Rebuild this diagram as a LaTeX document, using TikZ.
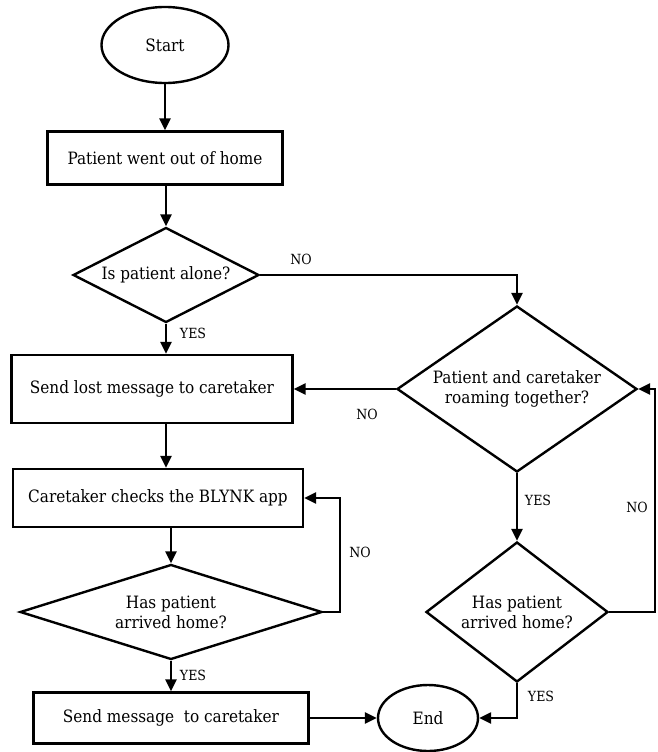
\documentclass[tikz,border=0pt]{standalone}
\usepackage{fontspec}
\setmainfont{DejaVu Serif Condensed}
\usepackage{tikz}
\usetikzlibrary{shapes,arrows.meta,positioning,calc}

\begin{document}
\begin{tikzpicture}[
    x=1pt, y=-1pt,
    every node/.style={font=\fontsize{17}{20}\selectfont},
    term/.style={draw, ellipse, line width=2.4pt, inner sep=0pt},
    procbox/.style={draw, rectangle, line width=2.4pt, inner sep=0pt},
    decision/.style={draw, diamond, line width=2.4pt, inner sep=0pt, align=center},
    flow/.style={line width=2.4pt, -{Triangle[length=12pt,width=11pt]}},
    lbl/.style={font=\fontsize{14}{16}\selectfont, inner sep=0pt}
]
\useasboundingbox (0,0) rectangle (657,752);

% nodes
\node[term, minimum width=127pt, minimum height=76pt] (start) at (165,45) {Start};
\node[procbox, minimum width=235pt, minimum height=53pt] (outhome) at (165,158) {Patient went out of home};
\node[decision, minimum width=186pt, minimum height=95pt, aspect=1.96] (alone) at (166,275) {Is patient alone?};
\node[procbox, minimum width=281pt, minimum height=68pt] (lostmsg) at (152,389) {Send lost message to caretaker};
\node[decision, minimum width=240pt, minimum height=166pt, aspect=1.45] (together) at (517,389) {Patient and caretaker\\roaming together?};
\node[procbox, minimum width=290pt, minimum height=58pt] (checkapp) at (158,498) {Caretaker checks the BLYNK app};
\node[decision, minimum width=302pt, minimum height=95pt, aspect=3.18] (homeA) at (171,612) {Has patient\\arrived home?};
\node[decision, minimum width=182pt, minimum height=140pt, aspect=1.3] (homeB) at (517,612) {Has patient\\arrived home?};
\node[procbox, minimum width=275pt, minimum height=51pt] (sendmsg) at (171,718) {Send message\ \ to caretaker};
\node[term, minimum width=100pt, minimum height=66pt] (finish) at (428,718) {End};

\coordinate (loopA) at (340,0);
\coordinate (loopB) at (655,0);

% connectors
\draw[flow] (start) -- (outhome);
\draw[flow] (outhome.south -| alone.north) -- (alone.north);
\draw[flow] (alone.south) -- (alone.south |- lostmsg.north);
\draw[flow] (alone.east) -| (together.north);
\draw[flow] (together.west) -- (together.west -| lostmsg.east);
\draw[flow] (lostmsg.south -| alone.south) -- (checkapp.north -| alone.south);
\draw[flow] (homeA.north |- checkapp.south) -- (homeA.north);
\draw[flow] (homeA.east) -- (homeA.east -| loopA) |- (checkapp.east);
\draw[flow] (homeA.south) -- (homeA.south |- sendmsg.north);
\draw[flow] (together.south) -- (homeB.north);
\draw[flow] (homeB.east) -- (homeB.east -| loopB) |- (together.east);
\draw[flow] (homeB.south) |- (finish.east);
\draw[flow] (sendmsg.east) -- (finish.west);

% labels
\node[lbl] (noA) at (301,259) {NO};
\node[lbl] (yesA) at (193,333) {YES};
\node[lbl] (noB) at (367,414) {NO};
\node[lbl] (yesB) at (538,500) {YES};
\node[lbl] (noC) at (637,507) {NO};
\node[lbl] (noD) at (360,552) {NO};
\node[lbl] (yesC) at (193,675) {YES};
\node[lbl] (yesD) at (541,696) {YES};
\end{tikzpicture}
\end{document}
